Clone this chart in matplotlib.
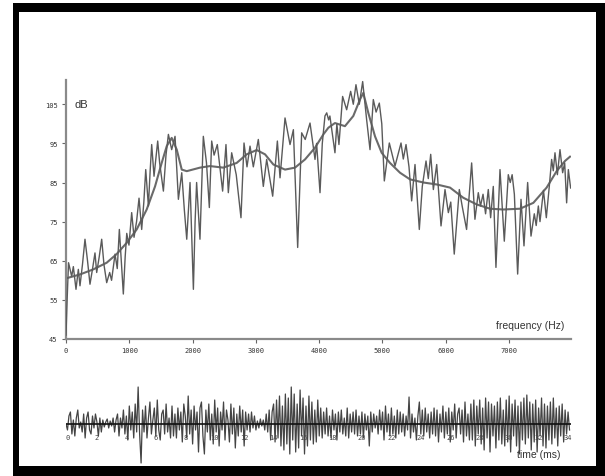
import matplotlib
matplotlib.use("Agg")
import matplotlib.pyplot as plt
from matplotlib.patches import Rectangle

# spectrum (noisy line): frequency in Hz, level in dB
spec_hz = [0, 20, 40, 90, 116, 158, 195, 221, 260, 300, 340, 379, 420, 458, 485, 525,
           564, 600, 643, 690, 720, 775, 810, 843, 870, 906, 935, 960, 995, 1038, 1075,
           1115, 1154, 1196, 1230, 1260, 1302, 1330, 1354, 1391, 1449, 1480, 1539, 1580,
           1618, 1670, 1723, 1776, 1829, 1870, 1908, 1960, 1985, 2013, 2040, 2064, 2117,
           2170, 2220, 2265, 2302, 2340, 2391, 2475, 2528, 2565, 2618, 2690, 2765, 2813,
           2860, 2908, 2960, 3039, 3118, 3171, 3266, 3340, 3382, 3461, 3540, 3593, 3661,
           3724, 3780, 3856, 3935, 3960, 4014, 4050, 4092, 4120, 4150, 4170, 4250, 4280,
           4313, 4371, 4435, 4498, 4540, 4582, 4635, 4688, 4751, 4804, 4856, 4900, 4951,
           4990, 5030, 5109, 5199, 5294, 5330, 5373, 5420, 5462, 5515, 5583, 5630, 5689,
           5725, 5763, 5805, 5858, 5926, 5989, 6042, 6080, 6135, 6215, 6260, 6330, 6410,
           6462, 6515, 6550, 6590, 6630, 6673, 6710, 6752, 6794, 6858, 6926, 6989, 7020,
           7050, 7085, 7137, 7190, 7237, 7295, 7348, 7400, 7430, 7464, 7490, 7545, 7590,
           7637, 7674, 7700, 7727, 7765, 7806, 7848, 7880, 7911, 7938, 7974]
spec_db = [46, 56, 64.5, 61, 63.5, 57.7, 62.8, 58.6, 64, 70.5, 65, 59, 63, 67, 62, 66,
           70.5, 64, 59.4, 62, 60, 66.7, 63, 73, 66, 56.5, 66, 72, 69, 77.3, 71,
           75, 81, 73, 80, 88.3, 79, 88, 94.7, 86.6, 95.6, 90, 82.8, 92,
           97.3, 93.4, 96.8, 80.7, 87.5, 78, 70.5, 85, 72, 57.7, 75, 85, 70.5,
           96.8, 90, 78.6, 95.6, 92, 94.7, 82.8, 94.7, 82.4, 92.6, 87, 76, 95.1,
           89, 94.3, 89, 96, 84, 90.9, 81.5, 95.6, 86.2, 101.5, 94.7, 98.5, 68.4,
           97.7, 96, 100.2, 90.9, 95, 82.4, 95, 102, 102.8, 101, 102, 92.6, 100,
           94.7, 107, 103.6, 108.3, 105, 110, 105, 110.8, 101, 93.4, 106.2, 103, 105.3,
           100, 85.4, 95.1, 89.2, 95.1, 91, 94.7, 89, 80.3, 89.6, 73, 84, 90.5,
           86, 92.2, 83.2, 89.6, 73.9, 83.2, 77.3, 80, 66.7, 83.2, 79, 73, 90,
           75.6, 82.4, 79, 82, 77, 83.2, 76, 84, 63.3, 88.3, 70, 87, 85,
           87, 82, 61.6, 80.7, 68.8, 85, 71.3, 77, 74, 79, 75, 83, 76,
           84, 90.9, 88, 92.6, 87, 93.4, 87.5, 90, 79.8, 88.3, 83.6]

# smooth envelope
env_hz = [0, 221, 432, 643, 800, 960, 1117, 1275, 1407, 1512, 1592, 1670, 1750, 1829,
          1908, 2117, 2275, 2486, 2697, 2855, 3013, 3145, 3277, 3461, 3619, 3777, 3935,
          4067, 4146, 4250, 4408, 4540, 4645, 4698, 4777, 4883, 4988, 5120, 5278, 5436,
          5647, 5858, 6068, 6278, 6489, 6700, 6910, 7174, 7385, 7595, 7753, 7885, 7964]
env_db = [60.5, 61.5, 62.8, 64.5, 66.7, 69.6, 73, 78.1, 84, 90, 94.3, 96.4, 93.4, 88.3,
          87.9, 88.8, 89.2, 88.8, 90, 92.2, 93.3, 92.2, 89.6, 88.3, 88.8, 90.9, 93.9,
          97.3, 99, 100.2, 99.4, 102, 106.2, 107.9, 102.8, 96.8, 92.6, 90, 87.5, 85.8,
          85, 84.5, 83.7, 81.1, 79.4, 78.3, 78.1, 78.3, 79.8, 83.7, 87.9, 90.5, 91.6]

# waveform samples, one every 0.1 ms (arbitrary amplitude units)
wave = [0, -6, 8, 12, -10, 4, -12, 6, 14, -4, 2, -8, 10, -14, 6, 12, -6, -10, 8, -4, 10, 2, -12, 6, -8,
        4, -3, 2, 5, -4, 3, -2, 6, -8, 4, 10, -12, 6, -4, 14, -10, 8, -16, 18, -6, 12, -14, 20, -8, 37,
        -10, -39, 14, -8, 18, -14, 6, 22, -10, 4, 16, -12, 24, -6, -16, 10, 14, -10, 20, -8, 6, -14, 18, -12, 10,
        -14, 16, -6, 12, -18, 20, 8, -14, 28, -10, 14, -20, 18, -6, 12, -28, 16, 22, -12, -30, 14, -8, 20, -16, 10,
        -20, 24, -8, 16, -22, 12, -6, 22, -16, 14, 4, -18, 20, -10, 16, -24, 10, -12, 18, -8, 14, -22, 12, -6, 10,
        -8, 12, -4, 8, -6, 3, -4, 5, -2, 4, -6, 10, -8, 14, -16, 12, 20, -18, 24, -14, 28, -22, 18, -26, 30,
        -20, 26, -30, 37, -16, 30, -28, 20, -24, 34, -12, 26, -30, 18, -22, 28, -16, 22, -20, 14, -18, 24, -12, 16, -14,
        12, -10, 16, -12, 8, -14, 14, -6, 10, -16, 12, -8, 14, -10, 6, -12, 16, -14, 10, -8, 12, -10, 14, -12, 8,
        -10, 12, -14, 10, -6, 8, -22, 12, -8, 10, -4, 8, -10, 14, -6, 12, -16, 18, -8, 10, -12, 16, -10, 8, -14,
        14, -10, 12, -8, 10, -12, 8, -6, 27, -14, 10, -8, 6, -16, 8, 22, -10, 14, -12, 16, -8, 10, -14, 12, -10,
        16, -12, 14, -18, 10, -8, 18, -14, 12, -10, 16, -18, 12, -6, 20, -14, 10, 16, -10, 14, -18, 22, -12, 10, -16,
        20, -16, 24, -22, 18, -10, 24, -20, 16, -26, 26, -14, 22, -28, 20, -12, 18, -24, 22, -16, 26, -20, 14, -22, 24,
        -18, 28, -28, 20, -12, 24, -22, 18, -30, 22, -16, 26, -20, 29, -14, 22, -26, 20, -18, 24, -28, 16, -12, 26, -22,
        20, -24, 18, -16, 22, -20, 26, -14, 16, -22, 18, -12, 20, -18, 14, -10, 12, -6]
wave_dt = 0.1

db_ticks = [45, 55, 65, 75, 85, 95, 105]
hz_ticks = [0, 1000, 2000, 3000, 4000, 5000, 6000, 7000]
ms_ticks = list(range(0, 35, 2))

W, H = 605, 477
fig = plt.figure(figsize=(W / 100, H / 100), dpi=100)
fig.patch.set_facecolor("white")

label_font = ["Liberation Sans", "DejaVu Sans"]
tick_font = ["DejaVu Sans Mono"]


def px_box(x0, y0, x1, y1):
    # pixel box (top-left origin) -> figure fraction [l, b, w, h]
    return [x0 / W, 1 - y1 / H, (x1 - x0) / W, (y1 - y0) / H]


# spectrum panel
ax = fig.add_axes(px_box(66, 81, 571, 340))
ax.plot(spec_hz, spec_db, color="#5a5a5a", lw=1.0, zorder=3)
ax.plot(env_hz, env_db, color="#6a6a6a", lw=1.5, zorder=2)
ax.set_xlim(0, 7980)
ax.set_ylim(45, 111.2)
for s in ["top", "right"]:
    ax.spines[s].set_visible(False)
for s in ["left", "bottom"]:
    ax.spines[s].set_color("#8a8a8a")
    ax.spines[s].set_linewidth(1.6)
ax.set_yticks(db_ticks)
ax.set_yticklabels([str(v) for v in db_ticks], family=tick_font, fontsize=5, color="#333333")
ax.set_xticks(hz_ticks)
ax.set_xticklabels([str(v) for v in hz_ticks], family=tick_font, fontsize=5, color="#333333")
ax.tick_params(axis="both", direction="out", length=3, width=0.8, color="#666666", pad=3)
ax.text(142, 105, "dB", family=label_font, fontsize=8, color="#333333", ha="left", va="center")
ax.text(7880, 48.6, "frequency (Hz)", family=label_font, fontsize=7.5, color="#333333",
        ha="right", va="center")

# waveform panel
wx = fig.add_axes(px_box(66, 380, 571, 470))
t = [i * wave_dt for i in range(len(wave))]
wx.plot(t, wave, color="#444444", lw=0.9, zorder=3)
wx.axhline(0, color="#111111", lw=1.2, zorder=4)
wx.set_xlim(0, 34.3)
wx.set_ylim(-45, 45)
wx.axis("off")
for m in ms_ticks:
    wx.text(m + 0.1, -13, str(m), family=tick_font, fontsize=5, color="#444444",
            ha="center", va="center", zorder=5)
wx.text(33.6, -30, "time (ms)", family=label_font, fontsize=7.5, color="#333333",
        ha="right", va="center")

# thick black frame
for x0, y0, x1, y1 in [(13, 4, 605, 13), (13, 467, 605, 477), (13, 4, 19, 477), (596, 4, 605, 477)]:
    fig.patches.append(Rectangle((x0 / W, 1 - y1 / H), (x1 - x0) / W, (y1 - y0) / H,
                                 transform=fig.transFigure, facecolor="black",
                                 edgecolor="none", zorder=10))

plt.savefig("out.png", dpi=100)
